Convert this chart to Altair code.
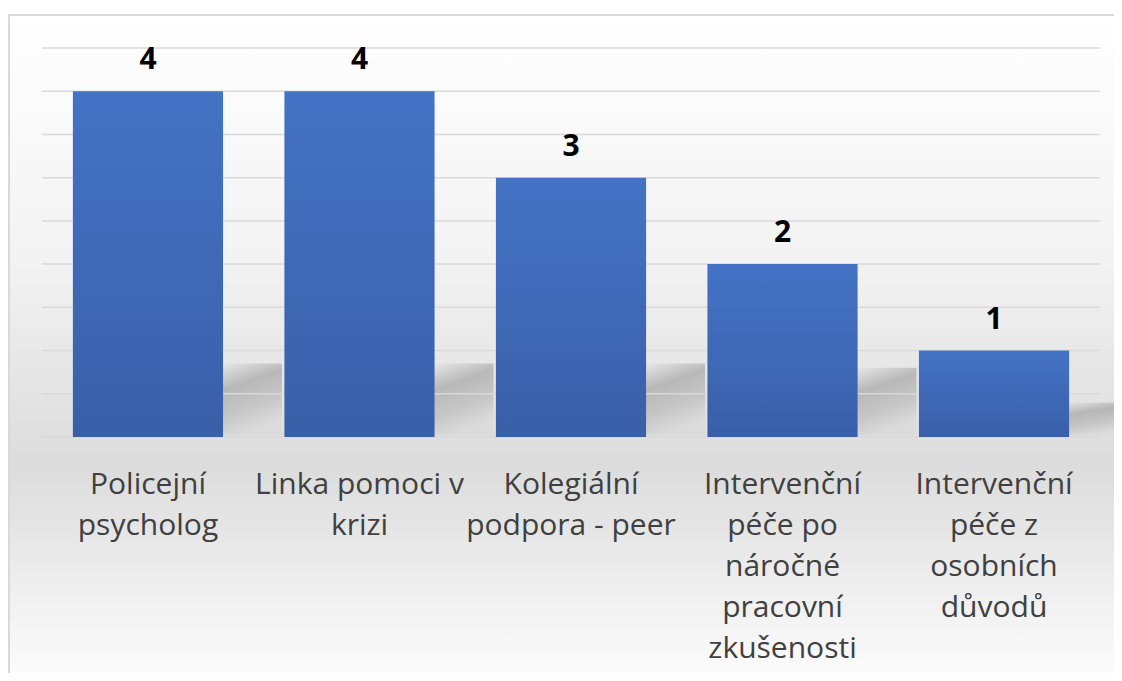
import altair as alt
import pandas as pd

categories = [
    "Policejní|psycholog",
    "Linka pomoci v|krizi",
    "Kolegiální|podpora - peer",
    "Intervenční|péče po|náročné|pracovní|zkušenosti",
    "Intervenční|péče z|osobních|důvodů",
]
values = [4, 4, 3, 2, 1]
grid_values = [0, 0.5, 1, 1.5, 2, 2.5, 3, 3.5, 4, 4.5]

df = pd.DataFrame({"cat": categories, "val": values})
gdf = pd.DataFrame({"g": grid_values})

W, H = 1058, 389

bg = alt.Chart(pd.DataFrame({"a": [0]})).mark_rect(
    fill=alt.Gradient(
        gradient="linear",
        x1=0, y1=0, x2=0, y2=1,
        stops=[
            alt.GradientStop(offset=0, color="#ffffff"),
            alt.GradientStop(offset=0.35, color="#f3f3f3"),
            alt.GradientStop(offset=0.66, color="#dcdcdc"),
            alt.GradientStop(offset=1, color="#ffffff"),
        ],
    ),
    stroke="#d9d9d9",
    strokeWidth=2,
).encode(
    x=alt.value(-33),
    x2=alt.value(W + 80),
    y=alt.value(-33),
    y2=alt.value(H + 260),
)

yscale = alt.Scale(domain=[0, 4.5], nice=False)
xscale = alt.Scale(paddingInner=0.29, paddingOuter=0.146)

xenc = alt.X(
    "cat:N",
    sort=categories,
    title=None,
    scale=xscale,
    axis=alt.Axis(
        labelExpr="split(datum.label, '|')",
        labelAngle=0,
        labelFont="Open Sans",
        labelFontSize=30,
        labelLineHeight=41,
        labelColor="#404040",
        labelPadding=32,
        labelBaseline="top",
        labelLimit=0,
        domain=False,
        ticks=False,
        grid=False,
        zindex=1,
    ),
)

# soft cast shadow behind each bar (decorative)
shadow = alt.Chart(df).transform_calculate(
    top="min(datum.val * 0.4, 0.85)",
    bot="0.02",
).mark_bar(
    width=60,
    xOffset=104,
    fill=alt.Gradient(
        gradient="linear",
        x1=0, y1=0, x2=0.3, y2=1,
        stops=[
            alt.GradientStop(offset=0, color="rgba(110,110,110,0)"),
            alt.GradientStop(offset=0.35, color="rgba(110,110,110,0.38)"),
            alt.GradientStop(offset=0.7, color="rgba(120,120,120,0.26)"),
            alt.GradientStop(offset=1, color="rgba(130,130,130,0.05)"),
        ],
    ),
).encode(
    x=xenc,
    y=alt.Y("top:Q", scale=yscale, axis=None),
    y2="bot:Q",
)

grid = alt.Chart(gdf).mark_rule(color="#d9d9d9", strokeWidth=1.5).encode(
    y=alt.Y("g:Q", scale=yscale, axis=None),
    x=alt.value(0),
    x2=alt.value(W),
)

yenc = alt.Y("val:Q", title=None, scale=yscale, axis=None)

bars = alt.Chart(df).mark_bar(
    fill=alt.Gradient(
        gradient="linear",
        x1=0, y1=0, x2=0, y2=1,
        stops=[
            alt.GradientStop(offset=0, color="#4473c5"),
            alt.GradientStop(offset=1, color="#3a5fa9"),
        ],
    ),
).encode(x=xenc, y=yenc)

text = alt.Chart(df).mark_text(
    font="Open Sans",
    fontSize=30,
    fontWeight="bold",
    color="#000000",
    baseline="alphabetic",
    dy=-22,
).encode(x=xenc, y=alt.Y("val:Q", scale=yscale, axis=None), text="val:Q")

chart = alt.layer(bg, shadow, grid, bars, text).properties(
    width=W,
    height=H,
    autosize=alt.AutoSizeParams(type="none"),
    padding={"left": 34, "top": 40, "right": 14, "bottom": 236},
).configure_view(stroke=None)

chart.save("out.html", embed_options={"renderer": "svg", "actions": False})
